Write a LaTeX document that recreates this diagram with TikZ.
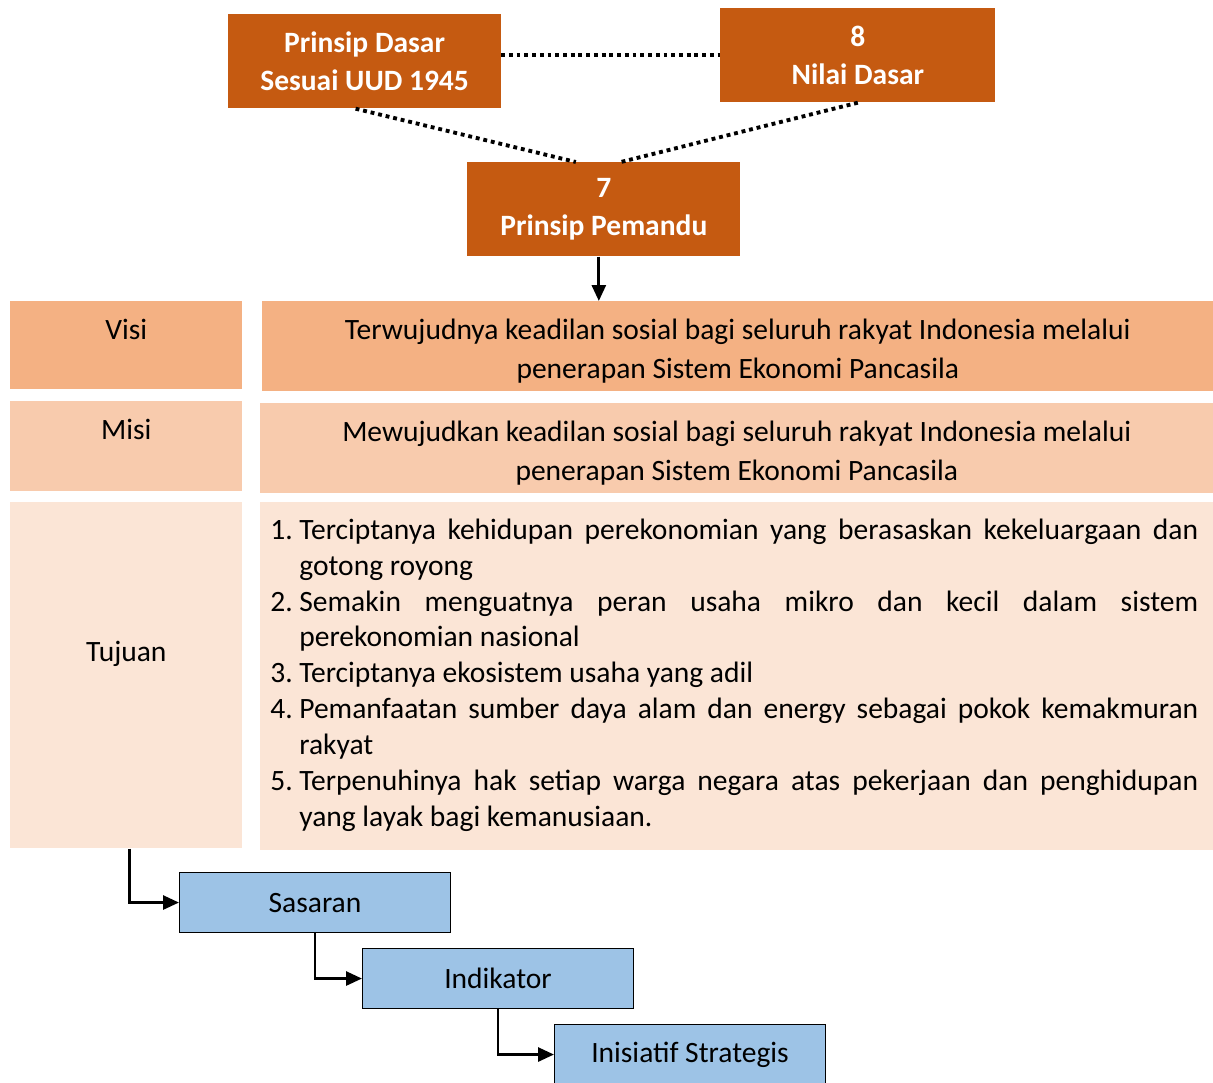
\documentclass[tikz,border=0pt]{standalone}
\usepackage{fontspec}
\setmainfont{Carlito}
\usepackage{enumitem}
\usetikzlibrary{arrows.meta,positioning}

\definecolor{pemandu}{HTML}{C55A11}
\definecolor{visifill}{HTML}{F4B183}
\definecolor{misifill}{HTML}{F8CBAD}
\definecolor{tujuanfill}{HTML}{FBE5D6}
\definecolor{langkah}{HTML}{9DC3E6}

\begin{document}
\begin{tikzpicture}[
  x=0.02cm, y=-0.02cm,
  head/.style={fill=pemandu, text=white, align=flush center, anchor=north west, inner sep=0pt,
    font=\bfseries\fontsize{16.8}{21.5}\selectfont, minimum width=5.45cm, minimum height=1.88cm},
  lbl/.style={anchor=north west, inner sep=0pt, align=flush center, text width=4.64cm,
    text height=0.76cm, font=\fontsize{16.8}{22}\selectfont},
  isi/.style={anchor=north west, inner sep=0pt, align=flush center, text width=19.06cm,
    text height=0.76cm, font=\fontsize{16.8}{22}\selectfont},
  blk/.style={draw=black, line width=0.6pt, fill=langkah, anchor=north west,
    minimum width=5.42cm, minimum height=1.2cm, font=\fontsize{16.8}{20}\selectfont},
  titik/.style={line width=2.2pt, dash pattern=on 2.2pt off 2.2pt},
  arr/.style={-{Triangle[length=3.2mm, width=2.8mm]}, line width=1.6pt}
]
\useasboundingbox (0,0) rectangle (1213,1082);

% atas
\node[head] (dasar) at (228,14) {Prinsip Dasar\\Sesuai UUD 1945};
\node[head, minimum width=5.5cm] (nilai) at (720,8) {8\\Nilai Dasar};
\node[head, minimum width=5.46cm] (pem) at (467,162) {7\\Prinsip Pemandu};

\draw[titik] (nilai.west -| dasar.east) -- (nilai.west);
\draw[titik] ([xshift=-0.18cm]dasar.south) -- ([xshift=-0.56cm]pem.north);
\draw[titik] (nilai.south) -- ([xshift=0.34cm]pem.north);

% visi, misi, tujuan
\node[lbl, fill=visifill, text depth=1.0cm] (visi) at (10,301) {Visi};
\node[isi, fill=visifill, text width=19.02cm, text depth=1.04cm] (visiisi) at (262,301)
  {Terwujudnya keadilan sosial bagi seluruh rakyat Indonesia melalui\\penerapan Sistem Ekonomi Pancasila};
\draw[arr] ([xshift=-0.1cm]pem.south) -- ([xshift=-0.1cm]pem.south |- visiisi.north);

\node[lbl, fill=misifill, text depth=1.04cm] (misi) at (10,401) {Misi};
\node[isi, fill=misifill, text depth=1.04cm] (misiisi) at (260,403)
  {Mewujudkan keadilan sosial bagi seluruh rakyat Indonesia melalui\\penerapan Sistem Ekonomi Pancasila};

\node[lbl, fill=tujuanfill, text height=3.18cm, text depth=3.74cm] (tujuan) at (10,502) {Tujuan};
\node[isi, fill=tujuanfill, align=justify, inner xsep=0.2cm, text width=18.66cm,
  text height=0.74cm, text depth=6.22cm,
  font=\fontsize{16.8}{20.4}\selectfont] (tujuanisi) at (260,502) {%
  \begin{minipage}[t]{18.56cm}
  \begin{enumerate}[leftmargin=0.58cm, labelwidth=0.46cm, labelsep=0.12cm, align=left,
    itemsep=0pt, topsep=0pt, parsep=0pt, partopsep=0pt]
  \item Terciptanya kehidupan perekonomian yang berasaskan kekeluargaan dan\linebreak gotong royong
  \item Semakin menguatnya peran usaha mikro dan kecil dalam sistem\linebreak perekonomian nasional
  \item Terciptanya ekosistem usaha yang adil
  \item Pemanfaatan sumber daya alam dan energy sebagai pokok kemakmuran\linebreak rakyat
  \item Terpenuhinya hak setiap warga negara atas pekerjaan dan penghidupan\linebreak yang layak bagi kemanusiaan.
  \end{enumerate}
  \end{minipage}};

% langkah
\node[blk] (sasaran) at (179,872) {Sasaran};
\node[blk] (indikator) at (362,948) {Indikator};
\node[blk] (inisiatif) at (554,1024) {Inisiatif Strategis};

\draw[arr] ([xshift=0.06cm]tujuan.south) |- (sasaran.west);
\draw[arr] (sasaran.south) |- (indikator.west);
\draw[arr] (indikator.south) |- (inisiatif.west);
\end{tikzpicture}
\end{document}
